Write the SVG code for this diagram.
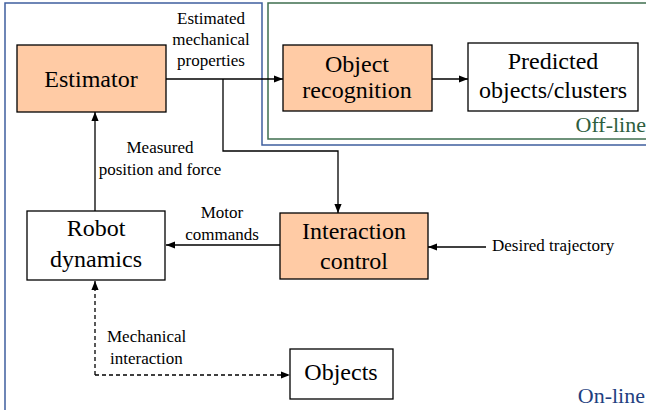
<svg xmlns="http://www.w3.org/2000/svg" width="646" height="410" viewBox="0 0 646 410" font-family="Liberation Serif">
<style>
.box{stroke:#000;stroke-width:1.3}
.peach{fill:#FFCBA5}
.white{fill:#fff}
.ln{fill:none;stroke:#000;stroke-width:1.3}
.dash{stroke-dasharray:4 3}
</style>
<defs>
<marker id="ah" viewBox="0 0 10 10" refX="10" refY="5" markerWidth="9" markerHeight="9" markerUnits="userSpaceOnUse" orient="auto">
<path d="M0,1 L10,5 L0,9 Z" fill="#000"/>
</marker>
</defs>
<rect width="646" height="410" fill="#fff"/>
<g id="regions">
<path d="M5,412 L5,3 L262,3 L262,145 L650,145" fill="none" stroke="#3F5F9F" stroke-width="1.5"/>
<path d="M650,3 L268,3 L268,139 L650,139" fill="none" stroke="#3F6F4F" stroke-width="1.5"/>
<text x="646" y="132" font-family="Liberation Serif" font-size="22" fill="#2E5E3E" text-anchor="end">Off-line</text>
<text x="645" y="403" font-family="Liberation Serif" font-size="22" fill="#1F3F7F" text-anchor="end">On-line</text>
</g>
<g id="connectors">
<line class="ln" x1="166" y1="79" x2="283" y2="79" marker-end="url(#ah)"/>
<path class="ln" d="M223,79 L223,151 L338,151 L338,213" marker-end="url(#ah)"/>
<line class="ln" x1="432" y1="79" x2="468" y2="79" marker-end="url(#ah)"/>
<line class="ln" x1="95" y1="211" x2="95" y2="112" marker-end="url(#ah)"/>
<line class="ln" x1="280" y1="245" x2="166" y2="245" marker-end="url(#ah)"/>
<line class="ln" x1="486" y1="247" x2="428" y2="247" marker-end="url(#ah)"/>
<path class="ln dash" d="M95,375 L95,281" marker-end="url(#ah)"/>
<path class="ln dash" d="M95,375 L290,375" marker-end="url(#ah)"/>
<g font-family="Liberation Serif" font-size="17" fill="#000">
<g text-anchor="middle">
<text x="211" y="24">Estimated</text>
<text x="211" y="45">mechanical</text>
<text x="211" y="66">properties</text>
<text x="160" y="153">Measured</text>
<text x="160" y="175">position and force</text>
<text x="222" y="218">Motor</text>
<text x="222" y="240">commands</text>
</g>
<text x="492" y="251">Desired trajectory</text>
<text x="107" y="342">Mechanical</text>
<text x="110" y="364">interaction</text>
</g>
</g>
<g id="estimator">
<rect class="box peach" x="17" y="45" width="149" height="67"/>
<g font-family="Tinos, Liberation Serif, serif" font-size="24" text-anchor="middle"><text x="91" y="87">Estimator</text></g>
</g>
<g id="object-recognition">
<rect class="box peach" x="283" y="45" width="149" height="66"/>
<g font-family="Tinos, Liberation Serif, serif" font-size="24" text-anchor="middle"><text x="357" y="72">Object</text>
<text x="357" y="98">recognition</text></g>
</g>
<g id="predicted">
<rect class="box white" x="468" y="43" width="170" height="68"/>
<g font-family="Tinos, Liberation Serif, serif" font-size="24" text-anchor="middle"><text x="553" y="69">Predicted</text>
<text x="553" y="98">objects/clusters</text></g>
</g>
<g id="robot-dynamics">
<rect class="box white" x="27" y="211" width="138" height="69"/>
<g font-family="Tinos, Liberation Serif, serif" font-size="24" text-anchor="middle"><text x="96" y="236">Robot</text>
<text x="96" y="267">dynamics</text></g>
</g>
<g id="interaction-control">
<rect class="box peach" x="280" y="213" width="148" height="66"/>
<g font-family="Tinos, Liberation Serif, serif" font-size="24" text-anchor="middle"><text x="354" y="239">Interaction</text>
<text x="354" y="269">control</text></g>
</g>
<g id="objects">
<rect class="box white" x="290" y="349" width="103" height="50"/>
<g font-family="Tinos, Liberation Serif, serif" font-size="24" text-anchor="middle"><text x="341" y="380">Objects</text></g>
</g>
</svg>
